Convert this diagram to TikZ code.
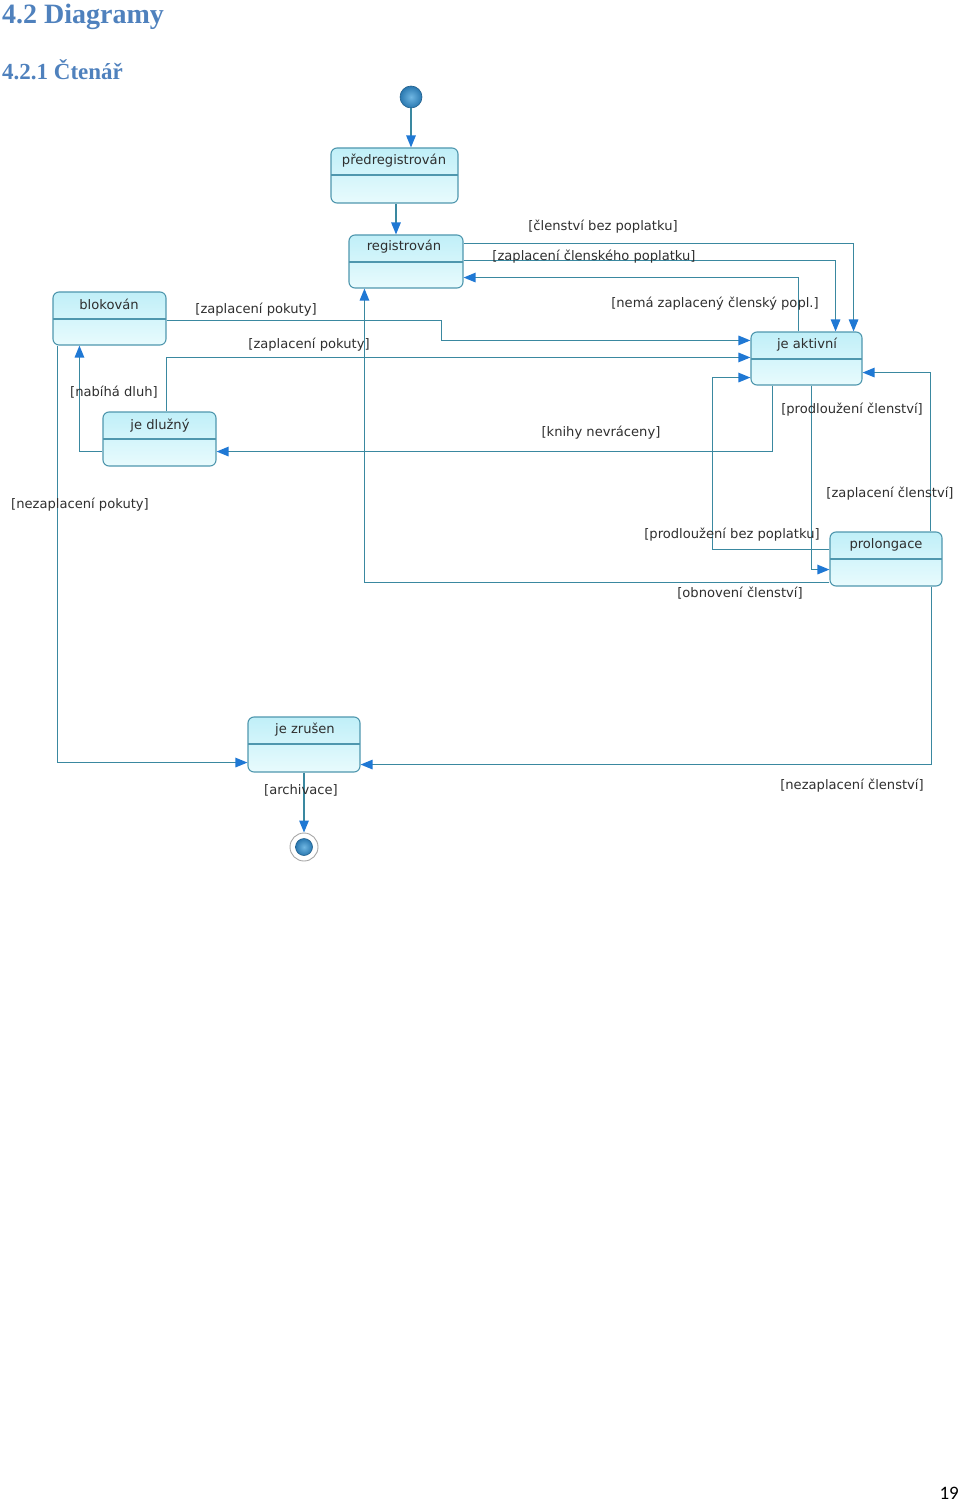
\documentclass[tikz,border=0pt]{standalone}
\usepackage{fontspec}
\setmainfont{DejaVu Sans}
\newfontfamily\headfont{Liberation Serif}
\newfontfamily\pagefont{Carlito}
\usetikzlibrary{arrows.meta,calc}
\definecolor{linec}{HTML}{3A88A0}
\definecolor{arrc}{HTML}{1F78D4}
\definecolor{bordc}{HTML}{4F97AE}
\definecolor{topc}{HTML}{C0EFF8}
\definecolor{botc}{HTML}{E8FBFD}
\definecolor{txtc}{HTML}{2E2E2E}
\definecolor{headc}{HTML}{4F81BD}
\definecolor{balllight}{HTML}{6FB6E2}
\definecolor{balldark}{HTML}{2A78B0}
\tikzset{
  statebox/.style={draw=bordc, line width=1.1pt, rounded corners=6pt,
    top color=topc, bottom color=botc, minimum width=#1, minimum height=54pt,
    inner sep=0pt,
    path picture={\draw[bordc, line width=1.1pt]
      ([yshift=-27pt]path picture bounding box.north west) --
      ([yshift=-27pt]path picture bounding box.north east);}},
  sname/.style={font=\fontsize{13.1}{14}\selectfont, text=txtc, inner sep=0pt},
  glabel/.style={font=\fontsize{13.1}{14}\selectfont, text=txtc, inner sep=0pt},
  tr/.style={draw=linec, line width=1.3pt,
    -{Triangle[length=12pt,width=9.5pt,fill=arrc,color=arrc]}},
  ball/.style={circle, draw=balldark!80!black, line width=0.6pt,
    inner color=balllight, outer color=balldark, inner sep=0pt},
}
\begin{document}
\begin{tikzpicture}[x=1pt,y=-1pt]
\useasboundingbox (0,0) rectangle (960,1503);
% headings
\node[anchor=west, inner sep=0pt, text=headc, font=\headfont\bfseries\fontsize{28}{32}\selectfont] (h1) at (2,17) {4.2 Diagramy};
\node[anchor=west, inner sep=0pt, text=headc, font=\headfont\bfseries\fontsize{23}{26}\selectfont] (h2) at (2,70) {4.2.1 Čtenář};
\node[anchor=east, inner sep=0pt, font=\pagefont\fontsize{19}{21}\selectfont] (pg) at (959,1493) {19};

% initial / final
\node[ball, minimum size=22pt] (init) at (411,97) {};
\node[circle, draw=gray!70, line width=0.9pt, fill=white, minimum size=28pt, inner sep=0pt] (fin) at (304,847) {};
\node[ball, minimum size=17pt] (fini) at (304,847) {};

% states
\node[statebox=127pt, minimum height=55pt] (pre) at (394.5,175.5) {};
\node[sname] (preT) at (394,161) {předregistrován};
\node[statebox=114pt, minimum height=53pt] (reg) at (406,261.5) {};
\node[sname] (regT) at (404,247) {registrován};
\node[statebox=113pt, minimum height=53pt] (blk) at (109.5,318.5) {};
\node[sname] (blkT) at (109,304) {blokován};
\node[statebox=113pt] (dl) at (159.5,439) {};
\node[sname] (dlT) at (160,426) {je dlužný};
\node[statebox=111pt, minimum height=53pt] (akt) at (806.5,358.5) {};
\node[sname] (aktT) at (807,345) {je aktivní};
\node[statebox=112pt] (pro) at (886,559) {};
\node[sname] (proT) at (886,545) {prolongace};
\node[statebox=112pt, minimum height=55pt] (zr) at (304,744.5) {};
\node[sname] (zrT) at (305,730) {je zrušen};

% transitions
\draw[tr] (init.south) -- (init.south |- pre.north);
\draw[tr] ([xshift=1.5pt]pre.south) -- ([xshift=1.5pt]pre.south |- reg.north);
\draw[tr] ([yshift=-9pt]reg.north east) -| ([xshift=-9pt]akt.north east);
\draw[tr] ([yshift=-26pt]reg.north east) -| ([xshift=-27pt]akt.north east);
\draw[tr] ([xshift=-64pt]akt.north east) |- ([yshift=11pt]reg.south east);
\draw[tr] ([yshift=-29pt]blk.north east) -- ++(275,0) |- ([yshift=-9pt]akt.north west);
\draw[tr] ([xshift=64pt]dl.north west) |- ([yshift=-26pt]akt.north west);
\draw[tr] ([xshift=22pt]akt.south west) |- ([yshift=15pt]dl.south east);
\draw[tr] ([yshift=15pt]dl.south west) -| ([xshift=27pt]blk.south west);
\draw[tr] ([xshift=5pt]blk.south west) |- ([yshift=10pt]zr.south west);
\draw[tr] ([xshift=61pt]akt.south west) |- ([yshift=17pt]pro.south west);
\draw[tr] ([yshift=-18pt]pro.north west) -- ++(-117,0) |- ([yshift=8pt]akt.south west);
\draw[tr] ([xshift=-12pt]pro.north east) |- ([yshift=13pt]akt.south east);
\draw[tr] ([yshift=4pt]pro.south west) -| ([xshift=16pt]reg.south west);
\draw[tr] ([xshift=-11pt]pro.south east) |- ([yshift=8pt]zr.south east);
\draw[tr] (zr.south) -- (fin.north);

% guard labels
\node[glabel] (l1) at (603,227) {[členství bez poplatku]};
\node[glabel] (l2) at (594,257) {[zaplacení členského poplatku]};
\node[glabel] (l3) at (715,304) {[nemá zaplacený členský popl.]};
\node[glabel] (l4) at (256,310) {[zaplacení pokuty]};
\node[glabel] (l5) at (309,345) {[zaplacení pokuty]};
\node[glabel] (l6) at (601,433) {[knihy nevráceny]};
\node[glabel] (l7) at (114,392) {[nabíhá dluh]};
\node[glabel] (l8) at (80,505) {[nezaplacení pokuty]};
\node[glabel] (l9) at (852,410) {[prodloužení členství]};
\node[glabel] (l10) at (732,535) {[prodloužení bez poplatku]};
\node[glabel] (l11) at (890,494) {[zaplacení členství]};
\node[glabel] (l12) at (740,593) {[obnovení členství]};
\node[glabel] (l13) at (852,786) {[nezaplacení členství]};
\node[glabel] (l14) at (301,790) {[archivace]};
\end{tikzpicture}
\end{document}
